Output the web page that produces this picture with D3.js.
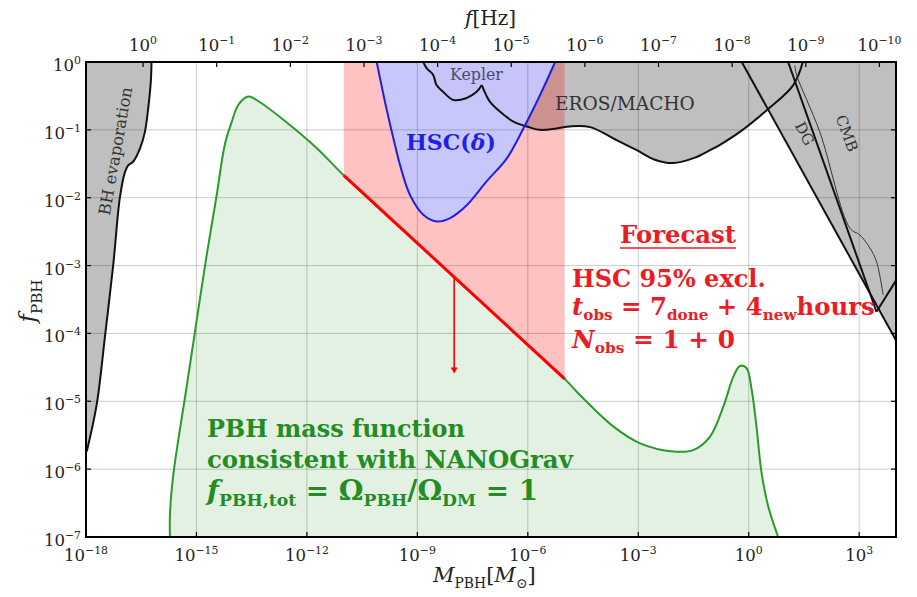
<!DOCTYPE html>
<html lang="en">
<head>
<meta charset="UTF-8">
<title>PBH mass function and constraints</title>
<script src="https://d3js.org/d3.v7.min.js"></script>
<style>
  body { margin: 0; background: #fff; }
  svg { display: block; font-family: "DejaVu Serif", serif; }
</style>
</head>
<body>
<svg width="917" height="597"></svg>
<script>
// all points are [log10(M/Msun), log10(f_PBH)]
var massTicks = [-18, -15, -12, -9, -6, -3, 0, 3];
var fpbhTicks = [0, -1, -2, -3, -4, -5, -6, -7];
var freqTicks = [0, -1, -2, -3, -4, -5, -6, -7, -8, -9, -10];
var freqEnds = [0.775, -10.225]; // log10 f[Hz] at the two ends of the mass axis

var bhEvap = [[-16.22, 0], [-16.24, -0.29], [-16.31, -0.68], [-16.40, -1.03], [-16.53, -1.27],
  [-16.72, -1.47], [-16.85, -1.52], [-16.94, -1.62], [-17.08, -2.0], [-17.26, -2.99],
  [-17.48, -4.02], [-17.71, -5.05], [-17.98, -5.74]];

var kepler = [[-8.84, 0], [-8.75, -0.09], [-8.57, -0.19], [-8.48, -0.34], [-8.30, -0.44],
  [-8.02, -0.56], [-7.66, -0.53], [-7.39, -0.44], [-7.25, -0.34]];

var eros = [[-7.25, -0.34], [-7.03, -0.585], [-6.76, -0.73], [-6.39, -0.88], [-6.03, -0.95],
  [-5.67, -1.0], [-5.22, -0.98], [-4.86, -0.95], [-4.31, -0.96], [-3.59, -1.15], [-3.04, -1.30],
  [-2.55, -1.44], [-2.06, -1.49], [-1.46, -1.41], [-1.05, -1.30], [-0.78, -1.22], [-0.24, -1.03],
  [0.49, -0.71], [1.21, -0.34], [1.47, 0]];

var dgOuter = [[-0.19, 0], [4, -4.1]];
var dgInner = [[1.07, 0], [3.47, -3.68]];
var dgTail = [[3.47, -3.68], [4, -3.22]];
var cmb = [[1.25, -0.05], [1.30, -0.19], [1.93, -1.03], [2.75, -2.45], [3.02, -2.55],
  [3.29, -2.74], [3.47, -2.94], [3.65, -3.43]];

var hsc = [[-10.105, 0], [-9.85, -0.66], [-9.61, -1.22], [-9.47, -1.52], [-9.20, -1.96],
  [-8.84, -2.25], [-8.48, -2.35], [-8.11, -2.30], [-7.66, -2.11], [-7.12, -1.76],
  [-6.57, -1.42], [-6.12, -0.98], [-5.67, -0.49], [-5.26, 0]];

var forecast = [[-11, -1.67], [-5, -4.67]];
var arrowMass = -8, arrowEnds = [-3.17, -4.59];

var massFn = [[-15.72, -7], [-15.72, -6.67], [-15.63, -6.09], [-15.27, -4.80], [-15.0, -3.83],
  [-14.72, -2.84], [-14.45, -1.96], [-14.23, -1.22], [-14.04, -0.88], [-13.86, -0.63],
  [-13.59, -0.51], [-13.37, -0.56], [-12.64, -0.85], [-11.73, -1.27], [-11.0, -1.67],
  [-8, -3.17], [-5.0, -4.67], [-4.58, -4.91], [-3.68, -5.37], [-2.95, -5.62], [-2.05, -5.74],
  [-1.51, -5.72], [-1.05, -5.52], [-0.69, -5.08], [-0.42, -4.64], [-0.24, -4.48],
  [-0.06, -4.51], [0.08, -4.83], [0.21, -5.37], [0.35, -6.06], [0.53, -6.55], [0.80, -7.0]];

var svg = d3.select("svg");
var pow = function (e) { return Math.pow(10, e); };

var x = d3.scaleLog().domain([1e-18, 1e4]).range([86, 896]);
var y = d3.scaleLog().domain([1e-7, 1]).range([537, 62]);
var xf = d3.scaleLog().domain(freqEnds.map(pow)).range([86, 896]);

var px = function (d) { return x(pow(d[0])); };
var py = function (d) { return y(pow(d[1])); };
var smooth = d3.line().x(px).y(py).curve(d3.curveCatmullRom.alpha(0.5));
var straight = d3.line().x(px).y(py);

svg.append("defs").append("clipPath").attr("id", "plot")
  .append("rect").attr("x", 86).attr("y", 62).attr("width", 810).attr("height", 475);

var plot = svg.append("g").attr("clip-path", "url(#plot)");
var xmin = x.domain()[0], xmax = x.domain()[1], ymin = y.domain()[0], ymax = y.domain()[1];

// green mass function fill
plot.append("path")
  .attr("d", smooth(massFn) + "Z")
  .attr("fill", "green").attr("fill-opacity", 0.11);

// gray exclusion regions
var gray = "#bfbfbf";
var last = bhEvap[bhEvap.length - 1];
plot.append("path")
  .attr("d", smooth(bhEvap) + "L" + x(xmin) + "," + py(last) + "L" + x(xmin) + "," + y(ymax) + "Z")
  .attr("fill", gray);
plot.append("path")
  .attr("d", smooth(kepler) + smooth(eros).replace(/^M/, "L") + "Z")
  .attr("fill", gray);
plot.append("path")
  .attr("d", straight(dgOuter) + "L" + x(xmax) + "," + y(ymax) + "Z")
  .attr("fill", gray);

// pink forecast band
plot.append("path")
  .attr("d", straight([[forecast[0][0], 0], [forecast[1][0], 0], forecast[1], forecast[0]]) + "Z")
  .attr("fill", "red").attr("fill-opacity", 0.24);

// HSC(delta) blue
plot.append("path")
  .attr("d", smooth(hsc) + "Z")
  .attr("fill", "rgb(197,199,255)").attr("fill-opacity", 0.95);

// grid
var grid = plot.append("g").attr("stroke", "#000").attr("stroke-opacity", 0.2).attr("stroke-width", 1);
grid.selectAll(".gx").data(massTicks).enter().append("line")
  .attr("x1", function (d) { return x(pow(d)); }).attr("x2", function (d) { return x(pow(d)); })
  .attr("y1", 62).attr("y2", 537);
grid.selectAll(".gy").data(fpbhTicks).enter().append("line")
  .attr("y1", function (d) { return y(pow(d)); }).attr("y2", function (d) { return y(pow(d)); })
  .attr("x1", 86).attr("x2", 896);

// curves
plot.append("path").attr("d", smooth(massFn)).attr("fill", "none")
  .attr("stroke", "#2a9a2a").attr("stroke-width", 2);
plot.append("path").attr("d", straight(forecast)).attr("fill", "none")
  .attr("stroke", "red").attr("stroke-width", 3);
plot.append("path").attr("d", smooth(bhEvap)).attr("fill", "none")
  .attr("stroke", "#111").attr("stroke-width", 2);
plot.append("path").attr("d", smooth(kepler)).attr("fill", "none")
  .attr("stroke", "#111").attr("stroke-width", 2);
plot.append("path").attr("d", smooth(eros)).attr("fill", "none")
  .attr("stroke", "#111").attr("stroke-width", 2);
[dgOuter, dgInner, dgTail].forEach(function (l) {
  plot.append("path").attr("d", straight(l)).attr("fill", "none")
    .attr("stroke", "#111").attr("stroke-width", 2);
});
plot.append("path").attr("d", smooth(cmb)).attr("fill", "none")
  .attr("stroke", "#333").attr("stroke-width", 1);
plot.append("path").attr("d", smooth(hsc)).attr("fill", "none")
  .attr("stroke", "#1f1fe6").attr("stroke-width", 2);

// arrow
var ax = x(pow(arrowMass)), ay0 = y(pow(arrowEnds[0])), ay1 = y(pow(arrowEnds[1]));
plot.append("line").attr("x1", ax).attr("x2", ax).attr("y1", ay0).attr("y2", ay1 - 4)
  .attr("stroke", "red").attr("stroke-width", 1.6);
plot.append("path").attr("d", "M" + (ax - 3.5) + "," + (ay1 - 6) + "L" + (ax + 3.5) + "," + (ay1 - 6) + "L" + ax + "," + ay1 + "Z")
  .attr("fill", "red");

// frame and ticks
svg.append("rect").attr("x", 86).attr("y", 62).attr("width", 810).attr("height", 475)
  .attr("fill", "none").attr("stroke", "#000").attr("stroke-width", 2);
var ticks = svg.append("g").attr("stroke", "#000").attr("stroke-width", 1.2);
massTicks.forEach(function (d) {
  ticks.append("line").attr("x1", x(pow(d))).attr("x2", x(pow(d))).attr("y1", 537).attr("y2", 532);
});
freqTicks.forEach(function (d) {
  ticks.append("line").attr("x1", xf(pow(d))).attr("x2", xf(pow(d))).attr("y1", 62).attr("y2", 67);
});
fpbhTicks.forEach(function (d) {
  ticks.append("line").attr("x1", 86).attr("x2", 91).attr("y1", y(pow(d))).attr("y2", y(pow(d)));
  ticks.append("line").attr("x1", 896).attr("x2", 891).attr("y1", y(pow(d))).attr("y2", y(pow(d)));
});

// rich text: parts with sub / sup / italic
function rich(parent, px0, py0, parts, size, opts) {
  opts = opts || {};
  var t = parent.append("text").attr("x", px0).attr("y", py0).attr("font-size", size);
  if (opts.anchor) t.attr("text-anchor", opts.anchor);
  if (opts.fill) t.attr("fill", opts.fill);
  if (opts.bold) t.attr("font-weight", "bold");
  if (opts.transform) t.attr("transform", opts.transform);
  var shift = 0;
  parts.forEach(function (p) {
    var s = t.append("tspan").text(p.t);
    var target = p.sub ? size * (opts.subShift || 0.3) : p.sup ? -size * 0.42 : 0;
    if (target - shift !== 0) s.attr("dy", target - shift);
    shift = target;
    if (p.sub || p.sup) s.attr("font-size", size * (opts.small || 0.66));
    if (p.i) s.attr("font-style", "italic");
  });
  if (opts.width) {
    var w = t.node().getComputedTextLength();
    var k = opts.width / w;
    t.attr("font-size", size * k);
    t.selectAll("tspan").each(function () {
      var el = d3.select(this);
      if (el.attr("font-size")) el.attr("font-size", +el.attr("font-size") * k);
      if (el.attr("dy")) el.attr("dy", +el.attr("dy") * k);
    });
  }
  return t;
}
function expo(e) { return [{ t: "10" }, { t: e < 0 ? "\u2212" + (-e) : String(e), sup: true }]; }

var labels = svg.append("g").attr("fill", "#222");
massTicks.forEach(function (d) { rich(labels, x(pow(d)), 561, expo(d), 16.5, { anchor: "middle" }); });
freqTicks.forEach(function (d) { rich(labels, xf(pow(d)), 51, expo(d), 16.5, { anchor: "middle" }); });
fpbhTicks.forEach(function (d) { rich(labels, 81, y(pow(d)) + 9, expo(d), 16.5, { anchor: "end" }); });

// axis titles
rich(svg, 465, 25, [{ t: "f", i: true }, { t: "[Hz]" }], 20, { fill: "#222" });
rich(svg, 433, 582, [{ t: "M", i: true }, { t: "PBH", sub: true }, { t: "[" }, { t: "M", i: true },
  { t: "\u2299", sub: true }, { t: "]" }], 21, { fill: "#222" });
rich(svg, 0, 0, [{ t: "f", i: true }, { t: "PBH", sub: true }], 23,
  { fill: "#222", anchor: "middle", transform: "translate(35,301) rotate(-90)" });

// region labels
rich(svg, 0, 0, [{ t: "BH evaporation" }], 15,
  { fill: "#333", anchor: "middle", transform: "translate(121,152) rotate(-80)", width: 130 });
rich(svg, 450, 80, [{ t: "Kepler" }], 15, { fill: "#4a4a72", width: 53 });
rich(svg, 555, 110, [{ t: "EROS/MACHO" }], 17, { fill: "#333", width: 140 });
rich(svg, 0, 0, [{ t: "DG" }], 15, { fill: "#333", anchor: "middle", transform: "translate(800,136) rotate(63)" });
rich(svg, 0, 0, [{ t: "CMB" }], 15, { fill: "#333", anchor: "middle", transform: "translate(842,135) rotate(70)" });
rich(svg, 406, 150, [{ t: "HSC(" }, { t: "\u03B4", i: true }, { t: ")" }], 19, { fill: "#1f1fe6", bold: true, width: 90 });

// forecast text
var red = "#ec1c24";
rich(svg, 620, 243, [{ t: "Forecast" }], 22, { fill: red, bold: true, width: 116 });
svg.append("line").attr("x1", 620).attr("x2", 736).attr("y1", 248).attr("y2", 248)
  .attr("stroke", red).attr("stroke-width", 1.6);
rich(svg, 572, 287, [{ t: "HSC 95% excl." }], 22, { fill: red, bold: true, width: 194 });
rich(svg, 572, 315, [{ t: "t", i: true }, { t: "obs", sub: true }, { t: " = 7" }, { t: "done", sub: true },
  { t: " + 4" }, { t: "new", sub: true }, { t: "hours" }], 22,
  { fill: red, bold: true, width: 303, subShift: 0.22, small: 0.62 });
rich(svg, 572, 348, [{ t: "N", i: true }, { t: "obs", sub: true }, { t: " = 1 + 0" }], 22,
  { fill: red, bold: true, width: 163, subShift: 0.22, small: 0.62 });

// mass function text
var green = "#238c23";
rich(svg, 207, 437, [{ t: "PBH mass function" }], 22, { fill: green, bold: true, width: 258 });
rich(svg, 207, 468, [{ t: "consistent with NANOGrav" }], 22, { fill: green, bold: true, width: 366 });
rich(svg, 207, 500, [{ t: "f", i: true }, { t: "PBH,tot", sub: true }, { t: " = \u03A9" }, { t: "PBH", sub: true },
  { t: "/\u03A9" }, { t: "DM", sub: true }, { t: " = 1" }], 22,
  { fill: green, bold: true, width: 331, subShift: 0.22, small: 0.62 });
</script>
</body>
</html>
